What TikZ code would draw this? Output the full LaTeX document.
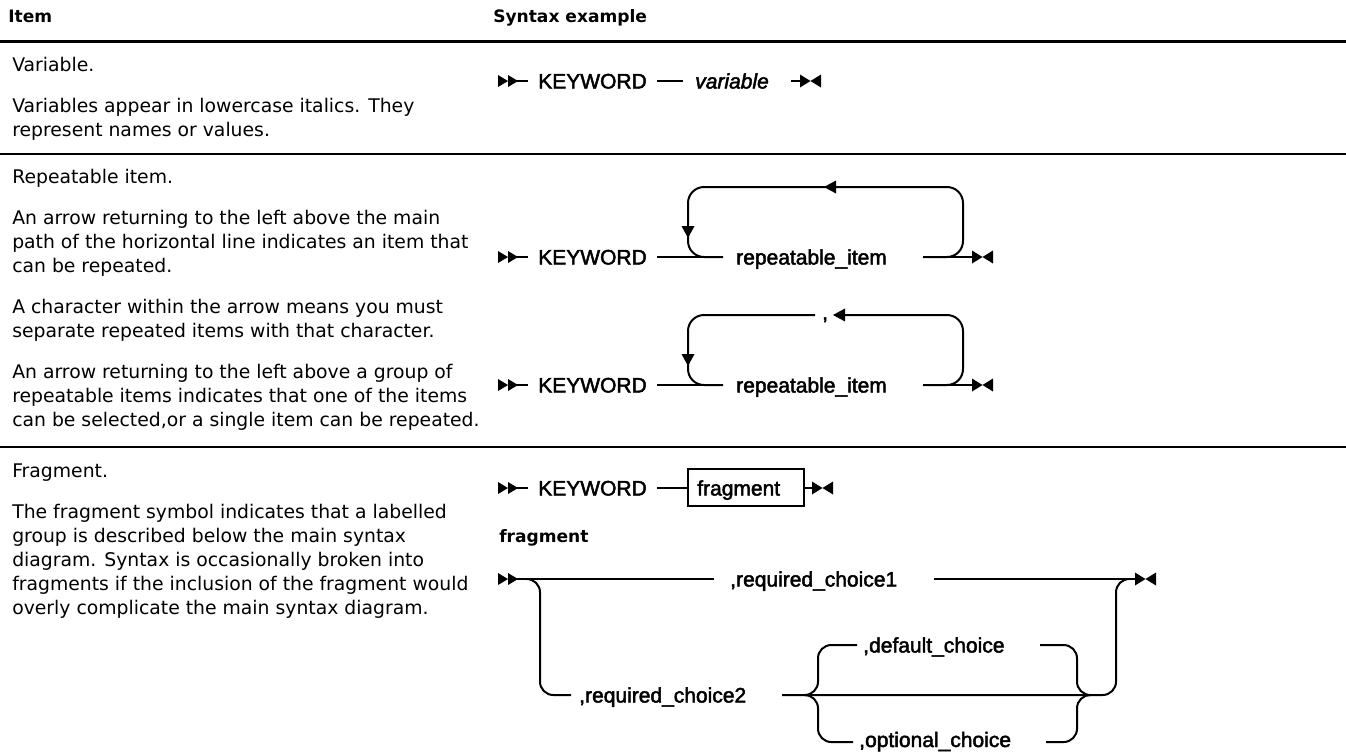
\documentclass[tikz,border=0pt]{standalone}
\usepackage{fontspec}
\setmainfont{DejaVu Sans}
\newfontfamily\railfont[FakeBold=2.2]{Liberation Sans}

\tikzset{
  % railroad-diagram end marks
  dblstart/.pic={\fill (0,-6) -- (10,0) -- (0,6) -- cycle
                       (10,-6) -- (20,0) -- (10,6) -- cycle;},
  bowtie/.pic={\fill (0,-6.5) -- (10.5,0) -- (0,6.5) -- cycle
                     (21,-6.5) -- (10.5,0) -- (21,6.5) -- cycle;},
  tipleft/.pic={\fill (0,0) -- (12,-6.5) -- (12,6.5) -- cycle;},
  tipdown/.pic={\fill (0,0) -- (-6.5,-12) -- (6.5,-12) -- cycle;},
}

\begin{document}
\begin{tikzpicture}[x=0.75pt, y=-0.75pt,
  body/.style={anchor=base west, inner sep=0pt, font=\fontsize{14.1}{18}\selectfont},
  head/.style={anchor=base west, inner sep=0pt, font=\bfseries\fontsize{12.8}{15}\selectfont},
  rtext/.style={anchor=base west, inner sep=0pt, font=\railfont\fontsize{15.75}{18}\selectfont},
  rvar/.style={rtext, font=\railfont\itshape\fontsize{15.75}{18}\selectfont},
  rail/.style={line width=1.5pt},
  railloop/.style={rail, rounded corners=12},
  railbend/.style={rail, rounded corners=10},
  headrule/.style={line width=2.25pt},
  rowrule/.style={line width=1.5pt},
]
\fill[white] (0,0) rectangle (1346,751);
\useasboundingbox (0,0) rectangle (1346,751);

% ---------- table header and rules ----------
\node[head] (hitem) at (8,22) {Item};
\node[head] (hsyn)  at (493,22) {Syntax example};
\coordinate (hl) at (0,41);   \coordinate (hr) at (1346,41);
\coordinate (s1l) at (0,154); \coordinate (s1r) at (1346,154);
\coordinate (s2l) at (0,447); \coordinate (s2r) at (1346,447);
\draw[headrule] (hl) -- (hr);
\draw[rowrule] (s1l) -- (s1r);
\draw[rowrule] (s2l) -- (s2r);

% ---------- left column ----------
\node[body] (t1a) at (12,71)  {Variable.};
\node[body] (t1b) at (12,112) {Variables appear in lowercase italics. They};
\node[body] (t1c) at (12,136) {represent names or values.};

\node[body] (t2a) at (12,183) {Repeatable item.};
\node[body] (t2b) at (12,224) {An arrow returning to the left above the main};
\node[body] (t2c) at (12,248) {path of the horizontal line indicates an item that};
\node[body] (t2d) at (12,272) {can be repeated.};
\node[body] (t2e) at (12,313) {A character within the arrow means you must};
\node[body] (t2f) at (12,337) {separate repeated items with that character.};
\node[body] (t2g) at (12,378) {An arrow returning to the left above a group of};
\node[body] (t2h) at (12,402) {repeatable items indicates that one of the items};
\node[body] (t2i) at (12,426) {can be selected,or a single item can be repeated.};

\node[body] (t3a) at (12,477) {Fragment.};
\node[body] (t3b) at (12,518) {The fragment symbol indicates that a labelled};
\node[body] (t3c) at (12,542) {group is described below the main syntax};
\node[body] (t3d) at (12,566) {diagram. Syntax is occasionally broken into};
\node[body] (t3e) at (12,590) {fragments if the inclusion of the fragment would};
\node[body] (t3f) at (12,614) {overly complicate the main syntax diagram.};

% ---------- variable ----------
\coordinate (v0) at (498,81);
\coordinate (v1) at (508,81);  \coordinate (v2) at (528,81);
\coordinate (v3) at (657,81);  \coordinate (v4) at (683,81);
\coordinate (v5) at (791,81);  \coordinate (v6) at (802,81);
\coordinate (vend) at (800,81);
\pic at (v0) {dblstart};
\draw[rail] (v1) -- (v2);
\node[rtext] (kw1) at (538,88.5) {KEYWORD};
\draw[rail] (v3) -- (v4);
\node[rvar] (var) at (695,88.5) {variable};
\draw[rail] (v5) -- (v6);
\pic at (vend) {bowtie};

% ---------- repeatable item ----------
\coordinate (a0) at (498,257);
\coordinate (a1) at (508,257);  \coordinate (a2) at (528,257);
\coordinate (a3) at (657,257);  \coordinate (a4) at (723,257);
\coordinate (a5) at (923,257);  \coordinate (a6) at (974,257);
\coordinate (aend) at (972,257);
\coordinate (aBL) at (688,257); \coordinate (aTL) at (688,187);
\coordinate (aTR) at (963,187); \coordinate (aBR) at (963,257);
\coordinate (aup) at (824,187); \coordinate (adn) at (688,238);
\pic at (a0) {dblstart};
\draw[rail] (a1) -- (a2);
\node[rtext] (kw2) at (538,264.5) {KEYWORD};
\draw[rail] (a3) -- (a4);
\node[rtext] (rep1) at (736,264.5) {repeatable\_item};
\draw[rail] (a5) -- (a6);
\draw[railloop] (a4) -- (aBL) -- (aTL) -- (aTR) -- (aBR) -- (a5);
\pic at (aup) {tipleft};
\pic at (adn) {tipdown};
\pic at (aend) {bowtie};

% ---------- repeatable item with separator ----------
\coordinate (b0) at (498,385);
\coordinate (b1) at (508,385);  \coordinate (b2) at (528,385);
\coordinate (b3) at (657,385);  \coordinate (b4) at (723,385);
\coordinate (b5) at (923,385);  \coordinate (b6) at (974,385);
\coordinate (bend) at (972,385);
\coordinate (bBL) at (688,385); \coordinate (bTL) at (688,315);
\coordinate (bTR) at (963,315); \coordinate (bBR) at (963,385);
\coordinate (bgapl) at (815,315); \coordinate (bgapr) at (845,315);
\coordinate (bup) at (833,315); \coordinate (bdn) at (688,366);
\pic at (b0) {dblstart};
\draw[rail] (b1) -- (b2);
\node[rtext] (kw3) at (538,392.5) {KEYWORD};
\draw[rail] (b3) -- (b4);
\node[rtext] (rep2) at (736,392.5) {repeatable\_item};
\draw[rail] (b5) -- (b6);
\draw[railloop] (b4) -- (bBL) -- (bTL) -- (bgapl);
\draw[railloop] (bgapr) -- (bTR) -- (bBR) -- (b5);
\node[rtext] (sep) at (822,319.5) {,};
\pic at (bup) {tipleft};
\pic at (bdn) {tipdown};
\pic at (bend) {bowtie};

% ---------- fragment reference ----------
\coordinate (f0) at (498,488);
\coordinate (f1) at (508,488);  \coordinate (f2) at (528,488);
\coordinate (f3) at (657,488);
\coordinate (f6) at (814,488);
\coordinate (fend) at (812,488);
\pic at (f0) {dblstart};
\draw[rail] (f1) -- (f2);
\node[rtext] (kw4) at (538,495.5) {KEYWORD};
\node[draw, rail, inner sep=0pt, anchor=north west,
      minimum width=87pt, minimum height=27.75pt] (fbox) at (687,468) {};
\node[rtext] (ftxt) at (697,495.5) {fragment};
\draw[rail] (f3) -- (f3 -| fbox.west);
\draw[rail] (f6 -| fbox.east) -- (f6);
\pic at (fend) {bowtie};

\node[head] (flabel) at (499,542) {fragment};

% ---------- fragment definition ----------
\coordinate (g0) at (498,579);
\coordinate (g1) at (508,579);  \coordinate (g2) at (714,579);
\coordinate (g3) at (934,579);  \coordinate (g4) at (1137,579);
\coordinate (gend) at (1135,579);
\coordinate (gL0) at (530,579); \coordinate (gL1) at (540,579);
\coordinate (gL2) at (540,695); \coordinate (gL3) at (571,695);
\coordinate (gm0) at (782,695);
\coordinate (gR0) at (1116,695); \coordinate (gR1) at (1116,579);
\coordinate (gR2) at (1126,579);
% inner choice group
\coordinate (cl) at (808,695);  \coordinate (cL) at (818,695);
\coordinate (cLt) at (818,645); \coordinate (cLb) at (818,742);
\coordinate (cr) at (1087,695); \coordinate (cR) at (1077,695);
\coordinate (cRt) at (1077,645); \coordinate (cRb) at (1077,742);
\coordinate (d0) at (857,645);  \coordinate (d1) at (1040,645);
\coordinate (o0) at (853,742);  \coordinate (o1) at (1046,742);

\pic at (g0) {dblstart};
\draw[rail] (g1) -- (g2);
\node[rtext] (rc1) at (730,586.5) {,required\_choice1};
\draw[rail] (g3) -- (g4);
\pic at (gend) {bowtie};
\draw[railbend] (gL0) -- (gL1) -- (gL2) -- (gL3);
\node[rtext] (rc2) at (579,702.5) {,required\_choice2};
\draw[railbend] (gm0) -- (gR0) -- (gR1) -- (gR2);
\draw[railbend] (d0) -- (cLt) -- (cL) -- (cl);
\draw[railbend] (cl) -- (cL) -- (cLb) -- (o0);
\draw[railbend] (d1) -- (cRt) -- (cR) -- (cr);
\draw[railbend] (cr) -- (cR) -- (cRb) -- (o1);
\node[rtext] (dc) at (863,652.5) {,default\_choice};
\node[rtext] (oc) at (859,747) {,optional\_choice};
\end{tikzpicture}
\end{document}
